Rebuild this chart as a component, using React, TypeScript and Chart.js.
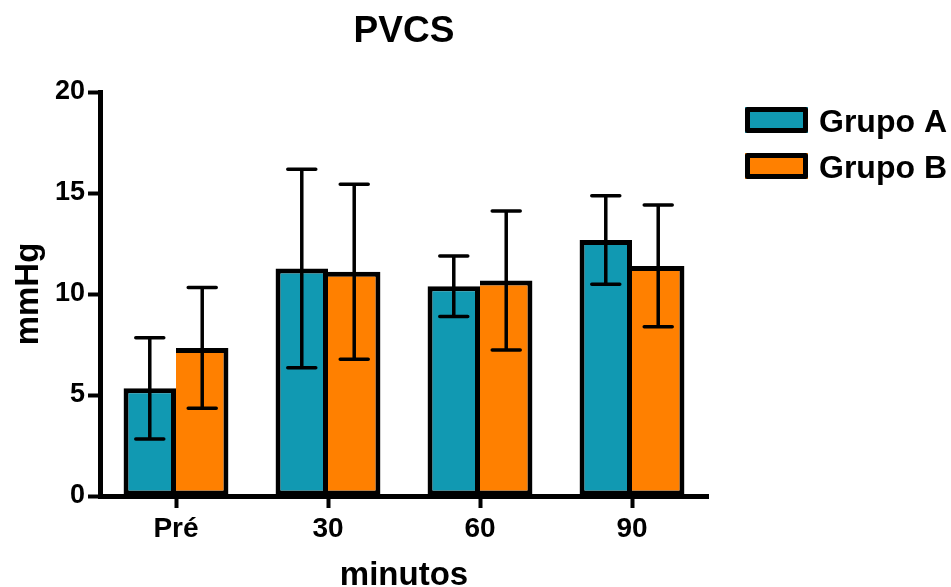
import React, { useEffect, useRef } from "react";
import { Chart, registerables } from "chart.js";

Chart.register(...registerables);

const categories = ["Pré", "30", "60", "90"];
const seriesLabels = ["Grupo A", "Grupo B"];
const grupoA = [5.33, 11.26, 10.38, 12.67];
const grupoAErr = [2.51, 4.91, 1.5, 2.19];
const grupoB = [7.33, 11.1, 10.67, 11.39];
const grupoBErr = [2.99, 4.33, 3.44, 3.01];
const yTicks = [0, 5, 10, 15, 20];
const colors = ["#1199B2", "#FF8000"];
const errors = [grupoAErr, grupoBErr];

const FONT = "'Liberation Sans', Arial, sans-serif";

const errorBarPlugin = {
  id: "errorBars",
  afterDatasetsDraw(chart: any) {
    const ctx = chart.ctx;
    const y = chart.scales.y;
    chart.data.datasets.forEach((ds: any, di: number) => {
      const meta = chart.getDatasetMeta(di);
      meta.data.forEach((bar: any, i: number) => {
        const v = ds.data[i];
        const e = errors[di][i];
        const x = bar.x;
        const yt = y.getPixelForValue(v + e);
        const yb = y.getPixelForValue(v - e);
        ctx.save();
        ctx.strokeStyle = "#000";
        ctx.lineWidth = 3.5;
        ctx.lineCap = "round";
        ctx.beginPath();
        ctx.moveTo(x, yt);
        ctx.lineTo(x, yb);
        ctx.moveTo(x - 14, yt);
        ctx.lineTo(x + 14, yt);
        ctx.moveTo(x - 14, yb);
        ctx.lineTo(x + 14, yb);
        ctx.stroke();
        ctx.restore();
      });
    });
  },
};

const legendPlugin = {
  id: "customLegend",
  afterDraw(chart: any) {
    const ctx = chart.ctx;
    const left = chart.chartArea.right + 37;
    const top0 = 107;
    const rowGap = 46;
    ctx.save();
    chart.data.datasets.forEach((ds: any, i: number) => {
      const top = top0 + i * rowGap;
      ctx.fillStyle = ds.backgroundColor;
      ctx.fillRect(left, top, 63, 26);
      ctx.strokeStyle = "#000";
      ctx.lineWidth = 5;
      ctx.lineJoin = "round";
      ctx.strokeRect(left + 2.5, top + 2.5, 58, 21);
      ctx.fillStyle = "#000";
      ctx.font = `bold 32px ${FONT}`;
      ctx.textBaseline = "alphabetic";
      ctx.textAlign = "left";
      ctx.fillText(ds.label, left + 74, top + 25);
    });
    ctx.restore();
  },
};

export default function App() {
  const ref = useRef<HTMLCanvasElement>(null);
  useEffect(() => {
    if (!ref.current) return;
    const chart = new Chart(ref.current, {
      type: "bar",
      data: {
        labels: categories,
        datasets: [
          {
            label: seriesLabels[0],
            data: grupoA,
            backgroundColor: colors[0],
            borderColor: "#000",
            borderWidth: 5,
            borderSkipped: false,
          },
          {
            label: seriesLabels[1],
            data: grupoB,
            backgroundColor: colors[1],
            borderColor: "#000",
            borderWidth: 5,
            borderSkipped: "left",
          },
        ],
      },
      options: {
        responsive: false,
        animation: false,
        devicePixelRatio: 1,
        layout: { padding: { left: 0, top: 0, right: 243, bottom: 0 } },
        datasets: { bar: { categoryPercentage: 0.69, barPercentage: 1.0 } },
        plugins: {
          legend: { display: false },
          tooltip: { enabled: false },
          title: {
            display: true,
            fullSize: false,
            text: "PVCS",
            color: "#000",
            font: { family: FONT, size: 37, weight: "bold" },
            padding: { top: 10, bottom: 37.6 },
          },
        },
        scales: {
          x: {
            afterFit: (s: any) => {
              s.height = 91;
            },
            grid: {
              display: true,
              offset: false,
              drawOnChartArea: false,
              drawTicks: true,
              tickLength: 12,
              tickWidth: 4,
              tickColor: "#000",
            },
            border: { display: true, width: 5, color: "#000" },
            ticks: {
              color: "#000",
              padding: 4,
              font: { family: FONT, size: 28, weight: "bold" },
            },
            title: {
              display: true,
              text: "minutos",
              color: "#000",
              font: { family: FONT, size: 33, weight: "bold", lineHeight: 1 },
              padding: { top: 0, bottom: -5 },
            },
          },
          y: {
            min: 0,
            max: 20,
            afterFit: (s: any) => {
              s.width = 100;
            },
            afterBuildTicks: (s: any) => {
              s.ticks = yTicks.map((v) => ({ value: v }));
            },
            grid: {
              display: true,
              drawOnChartArea: false,
              drawTicks: true,
              tickLength: 12,
              tickWidth: 4,
              tickColor: "#000",
            },
            border: { display: true, width: 5, color: "#000" },
            ticks: {
              color: "#000",
              padding: 3,
              font: { family: FONT, size: 27, weight: "bold" },
            },
            title: {
              display: true,
              text: "mmHg",
              color: "#000",
              font: { family: FONT, size: 33, weight: "bold", lineHeight: 1 },
              padding: { top: 12, bottom: 0 },
            },
          },
        },
      },
      plugins: [errorBarPlugin, legendPlugin],
    });
    return () => chart.destroy();
  }, []);
  return (
    <div style={{ position: "absolute", left: 0, top: 0, width: 951, height: 587, background: "#fff" }}>
      <canvas ref={ref} width={951} height={587} style={{ width: 951, height: 587, display: "block" }} />
    </div>
  );
}
